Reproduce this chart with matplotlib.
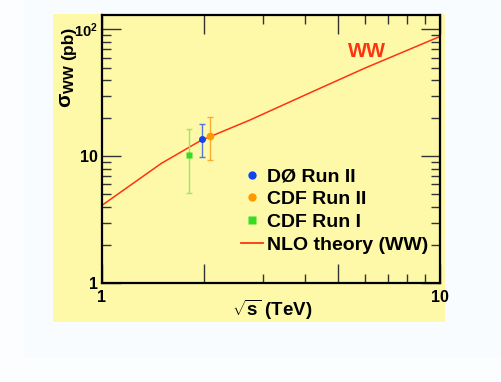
import numpy as np
import matplotlib
matplotlib.use("Agg")
import matplotlib.pyplot as plt
from matplotlib.patches import Rectangle
from matplotlib.lines import Line2D
from matplotlib.ticker import FixedLocator, FixedFormatter

plt.rcParams['font.family'] = ['Liberation Sans', 'DejaVu Sans']
plt.rcParams['font.weight'] = 'bold'
plt.rcParams['mathtext.fontset'] = 'custom'
plt.rcParams['mathtext.rm'] = 'Liberation Sans:bold'
plt.rcParams['mathtext.bf'] = 'Liberation Sans:bold'
plt.rcParams['mathtext.it'] = 'Liberation Sans:italic:bold'

## NLO theory curve (WW)
theory_rs = [1.0, 1.5, 1.96, 2.74, 4.0, 6.0, 10.0]
theory_sigma = [4.1, 8.8, 13.3, 19.3, 30.5, 49.6, 88.0]

## measurements: sqrt(s) [TeV], sigma [pb], +err, -err
d0_rs, d0_sig, d0_up, d0_dn = [1.98], [13.6], [4.3], [3.8]
cdf2_rs, cdf2_sig, cdf2_up, cdf2_dn = [2.08], [14.4], [6.0], [5.1]
cdf1_rs, cdf1_sig, cdf1_up, cdf1_dn = [1.81], [10.2], [6.2], [5.1]

legend_labels = ["DØ Run II", "CDF Run II", "CDF Run I", "NLO theory (WW)"]

W, H = 501, 382
fig = plt.figure(figsize=(W / 100, H / 100), dpi=100, facecolor='#fbfdff')

# faint panel + yellow pad (behind the axes)
fig.patches.append(Rectangle((24 / W, 1 - 358 / H), 1 - 24 / W, 358 / H,
                             transform=fig.transFigure, facecolor='#f8fcfe',
                             edgecolor='none', zorder=-2))
yellow = '#fdf9a8'
fig.patches.append(Rectangle((53 / W, 1 - 322 / H), (445 - 53) / W, (322 - 14) / H,
                             transform=fig.transFigure, facecolor=yellow,
                             edgecolor='none', zorder=-1))

ax = fig.add_axes([102 / W, 1 - 283 / H, (440 - 102) / W, (283 - 15) / H])
ax.set_facecolor(yellow)
ax.set_xscale('log')
ax.set_yscale('log')
ax.set_xlim(1, 10)
ax.set_ylim(1, 130)

red = '#ff3311'
ax.plot(theory_rs, theory_sigma, color=red, lw=1.1, zorder=2)

def meas(x, y, up, dn, mcol, ecol, marker, ms):
    ax.errorbar(x, y, yerr=[dn, up], fmt='none', ecolor=ecol, elinewidth=1.0,
                capsize=2.2, capthick=1.0, zorder=3)
    ax.plot(x, y, marker=marker, ls='none', color=mcol, ms=ms, mec='none', zorder=4)

blue, orange, green = '#1144ee', '#ff9900', '#33dd22'
meas(cdf1_rs, cdf1_sig, cdf1_up, cdf1_dn, green, '#99e866', 's', 4.6)
meas(d0_rs, d0_sig, d0_up, d0_dn, blue, '#5577dd', 'o', 5.0)
meas(cdf2_rs, cdf2_sig, cdf2_up, cdf2_dn, orange, '#ffaa33', 'o', 5.5)

ax.text(6.1, 67, "WW", color=red, fontsize=14.5, fontweight='bold',
        ha='center', va='center')

# ticks
ax.xaxis.set_major_locator(FixedLocator([1, 2, 5, 10]))
ax.xaxis.set_major_formatter(FixedFormatter(["1", "", "", "10"]))
ax.xaxis.set_minor_locator(FixedLocator([3, 4, 6, 7, 8, 9]))
ax.xaxis.set_minor_formatter(FixedFormatter([]))
ax.yaxis.set_major_locator(FixedLocator([1, 10, 100]))
ax.yaxis.set_major_formatter(FixedFormatter(["1", "10", r"$\mathbf{10^{2}}$"]))
ax.yaxis.set_minor_locator(FixedLocator(list(range(2, 10)) + list(range(20, 100, 10))))
ax.yaxis.set_minor_formatter(FixedFormatter([]))
ax.tick_params(which='both', direction='in', top=True, right=True, color='#333333')
ax.tick_params(which='major', length=13.5, width=1.0, labelsize=11.5)
ax.tick_params(axis='x', which='major', pad=5)
ax.tick_params(axis='y', which='major', pad=3)
ax.tick_params(which='minor', length=6.5, width=1.0)
for sp in ax.spines.values():
    sp.set_linewidth(1.6)

fig.canvas.draw()
# the 10^2 label is set a little smaller in the original
ax.yaxis.get_major_ticks()[2].label1.set_fontsize(10.5)

# axis titles
fig.text(272 / W, 1 - 310 / H, r"$\sqrt{\mathbf{s}}$ (TeV)", fontsize=13.5,
         fontweight='bold', ha='center', va='center')
fig.text(72 / W, 1 - 108 / H, r"σ$_{\mathbf{WW}}$", fontsize=15, fontweight='bold',
         rotation=90, rotation_mode='anchor', ha='left', va='baseline')
fig.text(73 / W, 1 - 60 / H, "(pb)", fontsize=12.5, fontweight='bold',
         rotation=90, rotation_mode='anchor', ha='left', va='baseline')

handles = [
    Line2D([], [], marker='o', ls='none', color=blue, ms=6, mec='none'),
    Line2D([], [], marker='o', ls='none', color=orange, ms=6, mec='none'),
    Line2D([], [], marker='s', ls='none', color=green, ms=5.2, mec='none'),
    Line2D([], [], color=red, lw=1.3),
]
leg = ax.legend(handles, legend_labels, loc='upper left',
                bbox_to_anchor=(241 / W, 1 - 168 / H), bbox_transform=fig.transFigure,
                frameon=False, borderpad=0, borderaxespad=0, handlelength=1.13,
                handletextpad=0.2, labelspacing=0.26,
                prop={'size': 14, 'weight': 'bold'})

fig.savefig("out.png", dpi=100, facecolor=fig.get_facecolor())
